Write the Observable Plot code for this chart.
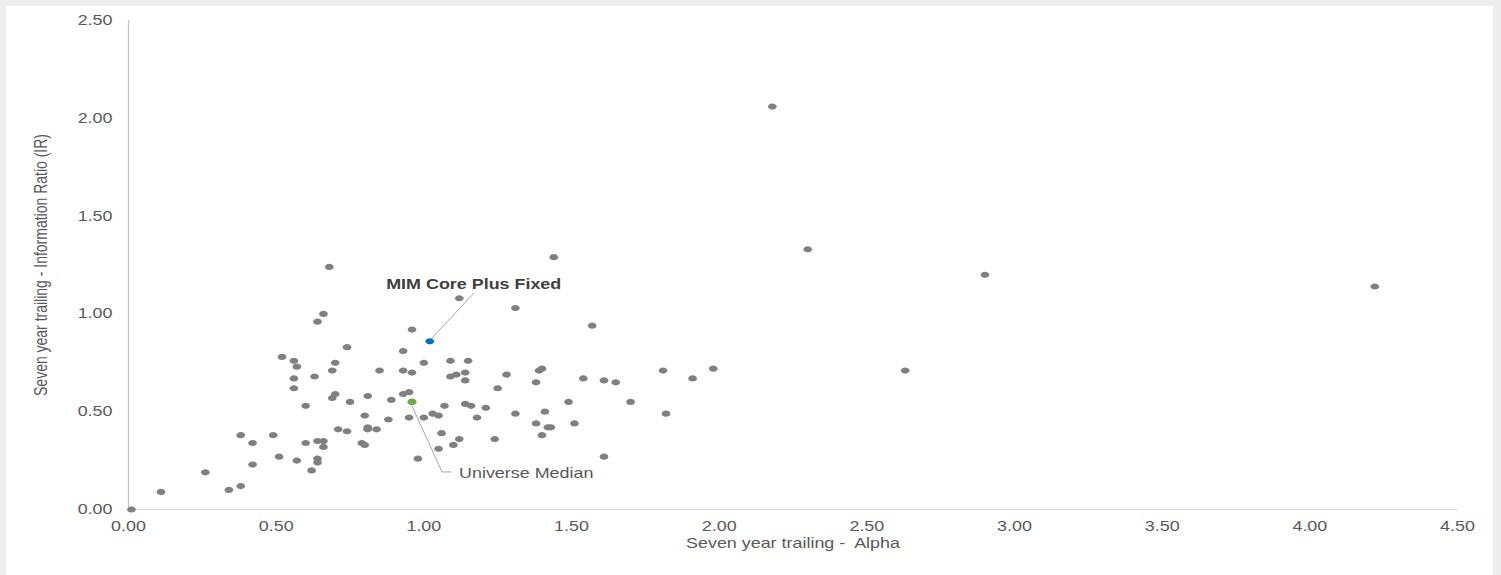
<!DOCTYPE html>
<html><head><meta charset="utf-8">
<script src="https://cdn.jsdelivr.net/npm/d3@7"></script>
<script src="https://cdn.jsdelivr.net/npm/@observablehq/plot@0.6"></script>
<style>
html,body{margin:0;padding:0;background:#ededed;width:1501px;height:575px;overflow:hidden;}
#panel{position:absolute;left:6px;top:6px;width:1487px;height:569px;background:#fff;}
#panel svg{display:block;}
#panel text{white-space:pre;}
</style></head><body><div id="panel"></div>
<script>
// Universe of managers: seven-year trailing alpha and information ratio
const alpha = [0.01,0.11,0.26,0.34,0.38,0.38,0.42,0.42,0.49,0.51,
  0.52,0.56,0.56,0.56,0.57,0.57,0.60,0.60,0.62,0.63,
  0.64,0.64,0.64,0.64,0.66,0.66,0.66,0.68,0.69,0.69,
  0.70,0.70,0.71,0.74,0.75,0.74,0.80,0.79,0.81,0.80,
  0.81,0.81,0.84,0.85,0.88,0.89,0.93,0.93,0.93,0.95,
  0.95,0.96,0.96,0.98,1.00,1.00,1.03,1.05,1.05,1.06,
  1.07,1.09,1.09,1.10,1.12,1.11,1.12,1.14,1.14,1.14,
  1.15,1.16,1.18,1.21,1.24,1.25,1.28,1.31,1.31,1.38,
  1.38,1.39,1.40,1.40,1.41,1.42,1.43,1.44,1.49,1.51,
  1.54,1.57,1.61,1.61,1.65,1.70,1.81,1.82,1.91,1.98,
  2.18,2.30,2.63,2.90,4.22];
const ir = [0.00,0.09,0.19,0.10,0.12,0.38,0.34,0.23,0.38,0.27,
  0.78,0.76,0.67,0.62,0.73,0.25,0.53,0.34,0.20,0.68,
  0.96,0.24,0.26,0.35,1.00,0.32,0.35,1.24,0.57,0.71,
  0.75,0.59,0.41,0.83,0.55,0.40,0.48,0.34,0.58,0.33,
  0.42,0.41,0.41,0.71,0.46,0.56,0.59,0.81,0.71,0.47,
  0.60,0.92,0.70,0.26,0.75,0.47,0.49,0.48,0.31,0.39,
  0.53,0.76,0.68,0.33,1.08,0.69,0.36,0.54,0.70,0.66,
  0.76,0.53,0.47,0.52,0.36,0.62,0.69,1.03,0.49,0.65,
  0.44,0.71,0.38,0.72,0.50,0.42,0.42,1.29,0.55,0.44,
  0.67,0.94,0.27,0.66,0.65,0.55,0.71,0.49,0.67,0.72,
  2.06,1.33,0.71,1.20,1.14];

const highlightNames = ["MIM Core Plus Fixed", "Universe Median"];
const highlightAlpha = [1.02, 0.96];
const highlightIR = [0.86, 0.55];

const xTicks = [0, 0.5, 1, 1.5, 2, 2.5, 3, 3.5, 4, 4.5];
const yTicks = [0, 0.5, 1, 1.5, 2, 2.5];
const xTitle = "Seven year trailing -  Alpha";
const yTitle = "Seven year trailing - Information Ratio (IR)";

// ---- build
const universe = alpha.map((a, i) => ({alpha: a, ir: ir[i]}));
const highlights = highlightNames.map((n, i) => ({name: n, alpha: highlightAlpha[i], ir: highlightIR[i]}));
const mim = highlights[0], med = highlights[1];

const W = 1487, H = 569, mL = 122, mR = 36, mT = 14, mB = 66;
const kx = 4.5 / (W - mL - mR), ky = 2.5 / (H - mT - mB);
const off = (p, dx, dy) => ({alpha: p.alpha + dx * kx, ir: p.ir - dy * ky});
const mimLeader = [off(mim, 2, -3), off(mim, 44, -48)];
const medLeader = [off(med, 0, 4), off(med, 30, 70), off(med, 39, 70)];

const ellipse = {
  draw(ctx, size) {
    const r = Math.sqrt(size / Math.PI), rx = r * 1.4, ry = r, k = 0.5523;
    ctx.moveTo(rx, 0);
    ctx.bezierCurveTo(rx, ry * k, rx * k, ry, 0, ry);
    ctx.bezierCurveTo(-rx * k, ry, -rx, ry * k, -rx, 0);
    ctx.bezierCurveTo(-rx, -ry * k, -rx * k, -ry, 0, -ry);
    ctx.bezierCurveTo(rx * k, -ry, rx, -ry * k, rx, 0);
    ctx.closePath();
  }
};

const chart = Plot.plot({
  width: W, height: H,
  marginLeft: mL, marginRight: mR, marginTop: mT, marginBottom: mB,
  style: {fontFamily: "'Liberation Sans', Arial, sans-serif", fontSize: "14px", color: "#595959", background: "transparent"},
  x: {domain: [0, 4.5], ticks: xTicks, tickFormat: d => d.toFixed(2), tickSize: 0, tickPadding: 12, label: null},
  y: {domain: [0, 2.5], ticks: yTicks, tickFormat: d => d.toFixed(2), tickSize: 0, tickPadding: 16, label: null},
  marks: [
    Plot.ruleY([0], {stroke: "#d9d9d9", strokeWidth: 1.2}),
    Plot.ruleX([0], {stroke: "#c4c4c4", strokeWidth: 1.2}),
    Plot.line(mimLeader, {x: "alpha", y: "ir", stroke: "#a6a6a6", strokeWidth: 1}),
    Plot.line(medLeader, {x: "alpha", y: "ir", stroke: "#a6a6a6", strokeWidth: 1}),
    Plot.dot(universe, {x: "alpha", y: "ir", r: 3.1, symbol: ellipse, fill: "#808080", stroke: "none"}),
    Plot.dot([mim], {x: "alpha", y: "ir", r: 3.1, symbol: ellipse, fill: "#0070c0", stroke: "none"}),
    Plot.dot([med], {x: "alpha", y: "ir", r: 3.3, symbol: ellipse, fill: "#70ad47", stroke: "none"}),
    Plot.text([mim], {x: "alpha", y: "ir", text: "name", dx: 44, dy: -57, fontWeight: "bold", fill: "#404040", textAnchor: "middle"}),
    Plot.text([med], {x: "alpha", y: "ir", text: "name", dx: 47, dy: 72, fill: "#595959", textAnchor: "start"}),
    Plot.text([xTitle], {text: d => d, frameAnchor: "bottom", dy: 38, fill: "#595959", textAnchor: "middle"}),
    Plot.text([yTitle], {text: d => d, frameAnchor: "left", dx: -87, rotate: -90, fill: "#595959", textAnchor: "middle"})
  ]
});

// horizontal stretch of the lettering, as in the reference
chart.querySelectorAll("text").forEach(t => {
  const tr = t.getAttribute("transform");
  if (!tr) return;
  if (/rotate\(-90\)/.test(tr)) t.setAttribute("transform", tr + " scale(1,1.28)");
  else t.setAttribute("transform", tr + " scale(1.28,1)");
});

document.getElementById("panel").appendChild(chart);
</script>
</body></html>
